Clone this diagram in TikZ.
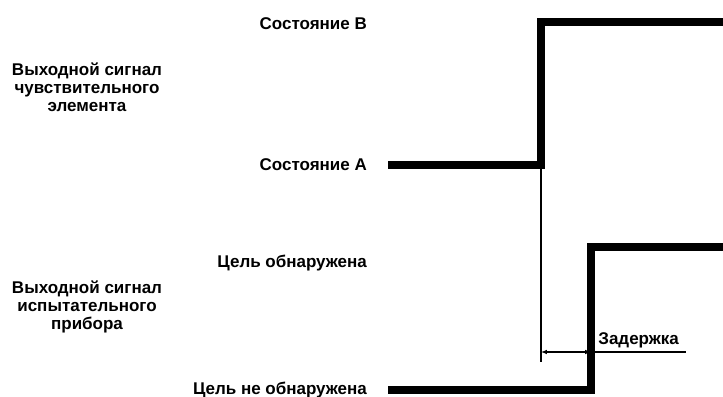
\documentclass[tikz,border=0pt]{standalone}
\usepackage{fontspec}
\setmainfont{Liberation Sans}
\usetikzlibrary{arrows.meta}
\begin{document}
\begin{tikzpicture}[x=0.03cm,y=-0.03cm,>={Latex[length=5pt,width=4pt]},
  font=\bfseries\fontsize{14.5}{15.5}\selectfont,
  signal/.style={line width=6.5pt,line join=miter},
  mark line/.style={line width=2.5pt}]
\useasboundingbox (0,0) rectangle (723,397);
% signal of the sensing element
\coordinate (a0) at (388,165);
\coordinate (a1) at (541,165);
\coordinate (b1) at (541,22);
\coordinate (b2) at (726,22);
\draw [signal](a0)--(a1)--(b1)--(b2);
% signal of the test device
\coordinate (c0) at (388,390);
\coordinate (c1) at (591,390);
\coordinate (d1) at (591,247);
\coordinate (d2) at (726,247);
\draw [signal](c0)--(c1)--(d1)--(d2);
% delay
\coordinate (m0) at (541,362);
\coordinate (m1) at (541,352);
\coordinate (m2) at (591,352);
\coordinate (m3) at (686,352);
\draw [mark line](a1)--(m0);
\draw [<->,line width=1pt](m1)--(m2);
\draw [line width=1pt](m2)--(m3);
\node [anchor=south west,inner sep=1pt] (delay) at (597,349) {Задержка};
% labels
\node [anchor=east] (stB) at (371,24) {Состояние В};
\node [anchor=east] (stA) at (371,165) {Состояние А};
\node [anchor=east] (det) at (371,263) {Цель обнаружена};
\node [anchor=east] (nodet) at (371,390) {Цель не обнаружена};
\node [align=center] (sens) at (87,87) {Выходной сигнал\\чувствительного\\элемента};
\node [align=center] (dev) at (87,307) {Выходной сигнал\\испытательного\\прибора};
\end{tikzpicture}
\end{document}
